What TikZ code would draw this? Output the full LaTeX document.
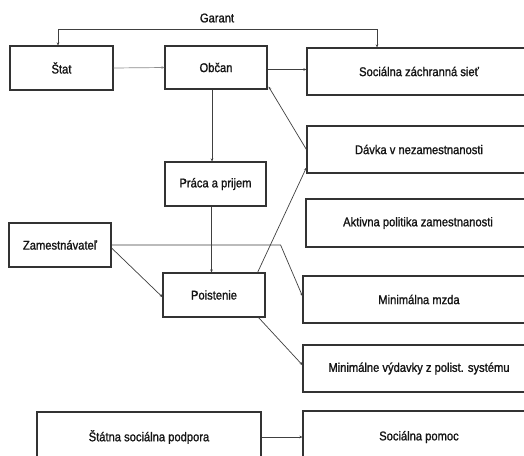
\documentclass[tikz,border=0pt]{standalone}
\usepackage{fontspec}
\setmainfont[FakeStretch=0.88,FakeBold=1.2]{Liberation Sans}
\usetikzlibrary{arrows.meta,calc}
\begin{document}
\begin{tikzpicture}[x=1pt,y=-1pt,
  box/.style={draw=black!80,line width=1.2pt,fill=white,inner sep=0pt,
    font=\fontsize{12.7}{14}\selectfont,text=black!92},
  conn/.style={draw=black!75,line width=0.7pt,-{Stealth[length=3pt,width=2.6pt]}},
  lconn/.style={conn,draw=black!45}]
\clip (0,0) rectangle (524,455);
\fill[white] (0,0) rectangle (524,455);
% nodes
\node[box,minimum width=103pt,minimum height=44pt] (stat) at (61.5,68) {Štat};
\node[box,minimum width=102pt,minimum height=43pt] (obcan) at (216,67.5) {Občan};
\node[box,minimum width=224pt,minimum height=47pt] (siet) at (419,71.5) {Sociálna záchranná sieť};
\node[box,minimum width=224pt,minimum height=47pt] (davka) at (419,149.5) {Dávka v nezamestnanosti};
\node[box,minimum width=101pt,minimum height=44pt] (praca) at (215.5,184) {Práca a prijem};
\node[box,minimum width=224pt,minimum height=48pt] (apz) at (418,223) {Aktivna politika zamestnanosti};
\node[box,minimum width=102pt,minimum height=44pt] (zam) at (60,245) {Zamestnávateľ};
\node[box,minimum width=102pt,minimum height=44pt] (poist) at (214,295) {Poistenie};
\node[box,minimum width=232pt,minimum height=47pt] (mzda) at (419,299.5) {Minimálna mzda};
\node[box,minimum width=232pt,minimum height=47pt] (vyd) at (419,368.5) {Minimálne výdavky z polist. systému};
\node[box,minimum width=224pt,minimum height=50pt] (ssp) at (149,437) {Štátna sociálna podpora};
\node[box,minimum width=232pt,minimum height=52pt] (pomoc) at (419,437) {Sociálna pomoc};
\node[font=\fontsize{12.7}{14}\selectfont,text=black!92] (garant) at (217,18) {Garant};
% connectors
\draw[conn,{Stealth[length=3pt,width=2.6pt]}-{Stealth[length=3pt,width=2.6pt]}]
  ([xshift=-3.5pt]stat.north) -- ++(0,-16) -| ([xshift=-42pt]siet.north);
\draw[lconn] (stat.east) -- (obcan.west);
\draw[conn] ([yshift=-2pt]obcan.east) -- ([yshift=-2pt]obcan.east -| siet.west);
\draw[conn] ([xshift=-4pt]obcan.south) -- ([xshift=-4pt]obcan.south |- praca.north);
\draw[conn] (davka.west) -- ([xshift=1pt,yshift=3pt]obcan.south east);
\draw[conn] ([xshift=-4pt]praca.south) -- ([xshift=-4pt]praca.south |- poist.north);
\draw[conn] ([xshift=-8pt]poist.north east) -- ([yshift=6pt]davka.south west);
\draw[conn] (zam.east) -- ++(169,0) -- ([yshift=3.5pt]mzda.west);
\draw[conn] ([yshift=-3pt]zam.east) -- ([yshift=-2pt]poist.west);
\draw[conn] ([xshift=-7pt]poist.south east) -- ([yshift=3.5pt]vyd.west);
\draw[conn] (ssp.east) -- (pomoc.west);
\end{tikzpicture}
\end{document}
